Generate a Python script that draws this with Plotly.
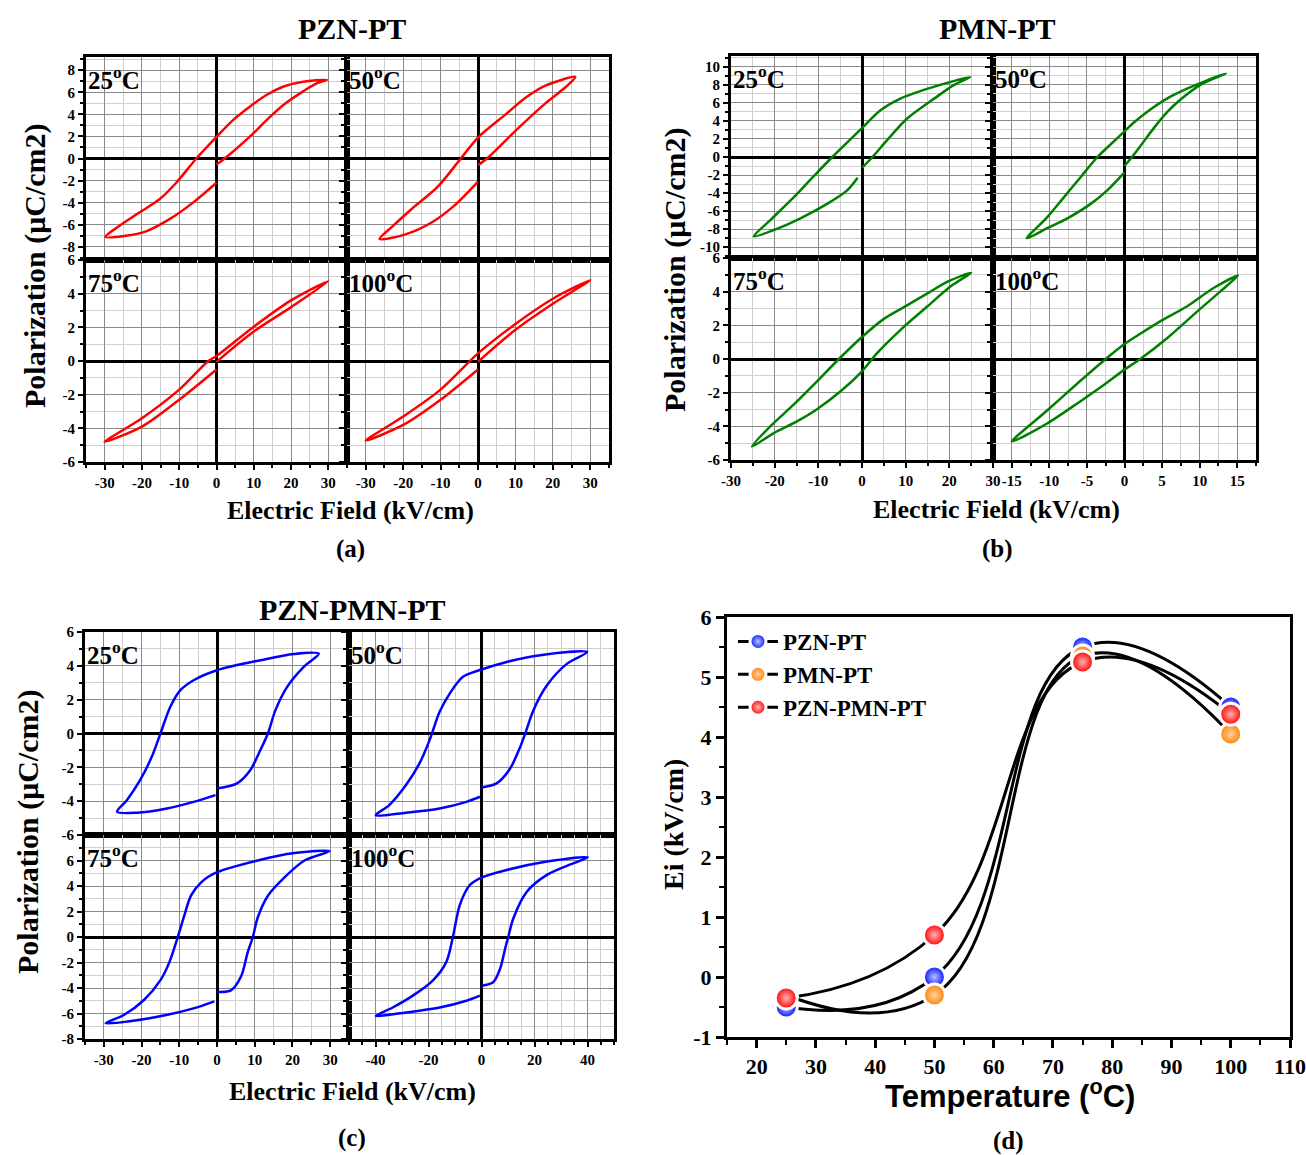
import plotly.graph_objects as go

# ---------------- data ----------------
# P-E hysteresis loops, traced along the measured path:
# start at E=0 -> +Emax (initial), +Emax -> -Emax (upper), -Emax -> 0 (lower)
PZN_PT_25_E = [0, 2.2, 9, 13.5, 18, 22.5, 27, 29.6, 22.5, 18, 13.5, 9, 4.5, 0, -5.4, -10.8, -15.3, -20.7, -26, -29.8, -24.3, -18.9, -12.6, -6.3, 0]
PZN_PT_25_P = [-0.54, 0, 2.0, 3.5, 4.87, 5.93, 6.83, 7.13, 6.92, 6.53, 5.78, 4.72, 3.5, 1.96, 0, -2.2, -3.7, -4.9, -6.1, -7.1, -7.0, -6.6, -5.5, -4.0, -2.2]

PZN_PT_50_E = [0, 2.4, 10.9, 18, 23.5, 26, 18, 12.7, 7.4, 0, -4.6, -10.6, -17.8, -23, -26.3, -19.6, -12.4, -6.1, 0]
PZN_PT_50_P = [-0.6, 0, 2.8, 5.0, 6.5, 7.4, 6.6, 5.5, 4.0, 1.9, 0, -2.5, -4.6, -6.2, -7.3, -6.9, -5.8, -4.2, -2.1]

PZN_PT_75_E = [0, 10, 20, 30, 20, 10, 0, -2.2, -10, -20, -30, -20, -10, 0]
PZN_PT_75_P = [-0.05, 1.75, 3.2, 4.75, 3.6, 2.04, 0.3, 0, -1.7, -3.4, -4.8, -3.9, -2.3, -0.5]

PZN_PT_100_E = [0, 10, 20, 30, 20, 10, 0, -10, -20, -30, -20, -10, 0]
PZN_PT_100_P = [-0.05, 1.85, 3.4, 4.8, 3.7, 2.2, 0.45, -1.7, -3.3, -4.73, -3.8, -2.3, -0.5]

PMN_PT_25_E = [0, 2.4, 5.8, 10.4, 16.6, 21.1, 24.8, 16.6, 8.9, 4.3, 0, -6.8, -11, -15.6, -21, -24.8, -20.2, -14.1, -8, -3.4, -1]
PMN_PT_25_P = [-1.2, 0, 1.9, 4.3, 6.5, 8.0, 8.87, 7.8, 6.5, 5.2, 3.2, 0, -2.1, -4.45, -7.0, -8.8, -8.1, -6.8, -5.2, -3.7, -2.3]

PMN_PT_50_E = [0, 1.0, 2.1, 3.9, 5.7, 7.5, 10.1, 13.5, 11.0, 8.4, 5.7, 3.0, 1.2, 0, -1.4, -3.6, -5.9, -8.1, -10.3, -13.0, -10.3, -7.6, -4.5, -2.3, 0]
PMN_PT_50_P = [-1.0, 0, 1.2, 3.2, 5.0, 6.4, 8.0, 9.25, 8.5, 7.6, 6.5, 5.0, 3.8, 2.85, 1.75, 0, -2.3, -4.5, -6.7, -9.0, -7.9, -6.8, -5.2, -3.7, -1.7]

PMN_PT_75_E = [0, 3.5, 8.9, 15, 20.4, 25, 19.6, 15, 10.4, 5.1, 0, -5.3, -10.3, -15.6, -21, -25.2, -20.2, -14.9, -10.3, -4.9, 0]
PMN_PT_75_P = [-0.73, 0.36, 1.75, 3.13, 4.33, 5.12, 4.6, 3.9, 3.2, 2.4, 1.31, 0, -1.33, -2.7, -4.0, -5.2, -4.4, -3.71, -2.98, -1.92, -0.73]

PMN_PT_100_E = [0, 2.1, 5.7, 9.7, 12.8, 15.1, 11.9, 8.4, 4.8, 2.1, 0, -2.5, -5.9, -10.3, -15, -10.3, -5.9, -3.0, 0]
PMN_PT_100_P = [-0.63, 0, 1.25, 2.83, 4.03, 4.96, 4.23, 3.15, 2.25, 1.5, 0.89, 0, -1.31, -3.06, -4.9, -3.83, -2.52, -1.62, -0.63]

PZN_PMN_PT_25_E = [0, 5.3, 8.8, 11.5, 13.5, 15.5, 18.6, 23, 27, 20.4, 11.5, 0, -6.2, -9.7, -12.4, -15, -17.3, -20.4, -23.9, -26.5, -21.2, -13.3, -6.2, -0.4]
PZN_PMN_PT_25_P = [-3.25, -2.95, -2.17, -0.98, 0, 1.38, 2.76, 3.94, 4.72, 4.7, 4.33, 3.74, 3.15, 2.56, 1.57, 0, -1.38, -2.76, -3.94, -4.63, -4.68, -4.43, -4.04, -3.64]

PZN_PMN_PT_50_E = [0, 5.7, 10.8, 14.6, 16.5, 19.6, 24.7, 32.3, 39.9, 22.2, 9.5, 0, -7, -12, -15.8, -19.6, -23.4, -28.5, -34.8, -39.9, -28.5, -15.8, -5.7, -0.6]
PZN_PMN_PT_50_P = [-3.19, -2.95, -2.07, -0.79, 0, 1.38, 2.85, 4.13, 4.82, 4.63, 4.23, 3.78, 3.35, 2.36, 1.28, -0.39, -1.77, -3.05, -4.23, -4.82, -4.68, -4.43, -4.04, -3.74]

PZN_PMN_PT_75_E = [0, 3.7, 6.4, 8.1, 9.5, 10.8, 13.5, 17.9, 23.2, 29.8, 20.5, 10.8, 0, -4.2, -6.9, -8.7, -10.4, -12.7, -14.9, -19.3, -24.6, -29.5, -23.7, -13.1, -6, -0.7]
PZN_PMN_PT_75_P = [-4.3, -4.18, -3.08, -1.24, 0, 1.53, 3.24, 4.68, 6.0, 6.74, 6.58, 6.0, 5.08, 4.29, 3.24, 1.66, 0, -2.03, -3.34, -4.92, -6.1, -6.76, -6.63, -6.1, -5.58, -5.05]

PZN_PMN_PT_100_E = [0, 4.4, 7, 8.9, 10.1, 12, 17.1, 24.7, 34.8, 40.1, 24.7, 9.5, 0, -4.4, -8.2, -10.8, -13.3, -18.4, -25.9, -33.5, -39.9, -28.5, -15.8, -5.7, -0.6]
PZN_PMN_PT_100_P = [-3.82, -3.55, -2.5, -0.92, 0, 1.45, 3.55, 4.87, 5.79, 6.26, 5.92, 5.26, 4.66, 4.08, 2.5, 0, -1.97, -3.42, -4.6, -5.53, -6.18, -5.92, -5.53, -5.0, -4.6]

TEMP_LABELS = ["25", "50", "75", "100"]

# tick values
X_TICKS_30 = [-30, -20, -10, 0, 10, 20, 30]
X_TICKS_15 = [-15, -10, -5, 0, 5, 10, 15]
X_TICKS_40 = [-40, -20, 0, 20, 40]
Y_TICKS_8 = [-8, -6, -4, -2, 0, 2, 4, 6, 8]
Y_TICKS_10 = [-10, -8, -6, -4, -2, 0, 2, 4, 6, 8, 10]
Y_TICKS_6 = [-6, -4, -2, 0, 2, 4, 6]
Y_TICKS_8_6 = [-8, -6, -4, -2, 0, 2, 4, 6]

# Internal field Ei vs temperature (panel d)
TEMPERATURES = [25, 50, 75, 100]
EI_PZN_PT = [-0.5, 0.0, 5.5, 4.5]
EI_PMN_PT = [-0.3, -0.3, 5.35, 4.05]
EI_PZN_PMN_PT = [-0.35, 0.7, 5.25, 4.38]
SERIES_NAMES = ["PZN-PT", "PMN-PT", "PZN-PMN-PT"]
T_TICKS = [20, 30, 40, 50, 60, 70, 80, 90, 100, 110]
EI_TICKS = [-1, 0, 1, 2, 3, 4, 5, 6]

# ---------------- layout helpers ----------------
W, H = 1306, 1155
SERIF = "Liberation Serif, Times New Roman, Times, serif"


def xd(a, b):
    return [a / W, b / W]


def yd(top, bottom):
    return [1 - bottom / H, 1 - top / H]


def txt(vals):
    return [str(v) for v in vals]


fig = go.Figure()
layout = {}
annotations = []

RED, GREEN, BLUE = "#ff0000", "#008000", "#0000ff"
subplots = [
    # panel a
    (PZN_PT_25_E, PZN_PT_25_P, RED, (86, 347), (57, 260), (-35, 35), (-9.2, 9.2), 10, X_TICKS_30, False, Y_TICKS_8, True, 0),
    (PZN_PT_50_E, PZN_PT_50_P, RED, (347, 609), (57, 260), (-35, 35), (-9.2, 9.2), 10, X_TICKS_30, False, Y_TICKS_8, False, 1),
    (PZN_PT_75_E, PZN_PT_75_P, RED, (86, 347), (260, 462), (-35, 35), (-6, 6), 10, X_TICKS_30, True, Y_TICKS_6, True, 2),
    (PZN_PT_100_E, PZN_PT_100_P, RED, (347, 609), (260, 462), (-35, 35), (-6, 6), 10, X_TICKS_30, True, Y_TICKS_6, False, 3),
    # panel b
    (PMN_PT_25_E, PMN_PT_25_P, GREEN, (731, 993), (56, 258), (-30, 30), (-11.2, 11.2), 10, X_TICKS_30, False, Y_TICKS_10, True, 0),
    (PMN_PT_50_E, PMN_PT_50_P, GREEN, (993, 1256), (56, 258), (-17.5, 17.5), (-11.2, 11.2), 5, X_TICKS_15, False, Y_TICKS_10, False, 1),
    (PMN_PT_75_E, PMN_PT_75_P, GREEN, (731, 993), (258, 460), (-30, 30), (-6, 6), 10, X_TICKS_30, True, Y_TICKS_6, True, 2),
    (PMN_PT_100_E, PMN_PT_100_P, GREEN, (993, 1256), (258, 460), (-17.5, 17.5), (-6, 6), 5, X_TICKS_15, True, Y_TICKS_6, False, 3),
    # panel c
    (PZN_PMN_PT_25_E, PZN_PMN_PT_25_P, BLUE, (85, 349), (632, 835), (-35, 35), (-6, 6), 10, X_TICKS_30, False, Y_TICKS_6, True, 0),
    (PZN_PMN_PT_50_E, PZN_PMN_PT_50_P, BLUE, (349, 614), (632, 835), (-50, 50), (-6, 6), 10, X_TICKS_40, False, Y_TICKS_6, False, 1),
    (PZN_PMN_PT_75_E, PZN_PMN_PT_75_P, BLUE, (85, 349), (835, 1039), (-35, 35), (-8, 8), 10, X_TICKS_30, True, Y_TICKS_8_6, True, 2),
    (PZN_PMN_PT_100_E, PZN_PMN_PT_100_P, BLUE, (349, 614), (835, 1039), (-50, 50), (-8, 8), 10, X_TICKS_40, True, Y_TICKS_8_6, False, 3),
]

tickfont = dict(family=SERIF, size=15, color="black", weight="bold")
MAJ, MIN = "#8a8a8a", "#cfcfcf"

for i, (E, P, col, xpx, ypx, xr, yr, xgrid, xticks, showx, yticks, showy, ti) in enumerate(subplots):
    n = i + 1
    xa = "x" if n == 1 else f"x{n}"
    ya = "y" if n == 1 else f"y{n}"
    fig.add_trace(go.Scatter(x=E, y=P, mode="lines", xaxis=xa, yaxis=ya, showlegend=False,
                             line=dict(color=col, width=2.5, shape="spline", smoothing=0.85),
                             hoverinfo="skip"))
    layout[f"xaxis{'' if n == 1 else n}"] = dict(
        domain=xd(*xpx), anchor=ya, range=list(xr),
        tickmode="array", tickvals=xticks, ticktext=txt(xticks),
        showgrid=True, gridcolor=MAJ, gridwidth=1,
        minor=dict(tickmode="linear", tick0=0, dtick=xgrid / 2, showgrid=True, gridcolor=MIN, gridwidth=1,
                   ticks="outside" if showx else "", ticklen=3, tickwidth=1.5, tickcolor="black"),
        zeroline=True, zerolinecolor="black", zerolinewidth=2.5,
        showline=True, mirror=True, linecolor="black", linewidth=3,
        ticks="outside" if showx else "", ticklen=5, tickwidth=2, tickcolor="black",
        showticklabels=showx, tickfont=tickfont, fixedrange=True,
    )
    layout[f"yaxis{'' if n == 1 else n}"] = dict(
        domain=yd(*ypx), anchor=xa, range=list(yr),
        tickmode="array", tickvals=yticks, ticktext=txt(yticks),
        showgrid=True, gridcolor=MAJ, gridwidth=1,
        minor=dict(tickmode="linear", tick0=0, dtick=1, showgrid=True, gridcolor=MIN, gridwidth=1,
                   ticks="outside", ticklen=3, tickwidth=1.5, tickcolor="black"),
        zeroline=True, zerolinecolor="black", zerolinewidth=2.5,
        showline=True, mirror=True, linecolor="black", linewidth=3,
        ticks="outside", ticklen=5, tickwidth=2, tickcolor="black",
        showticklabels=showy, tickfont=tickfont, fixedrange=True,
    )
    annotations.append(dict(
        xref=f"{xa} domain", yref=f"{ya} domain", x=0.0, y=0.985, xanchor="left", yanchor="top",
        text=f"{TEMP_LABELS[ti]}<sup>o</sup>C", showarrow=False,
        font=dict(family=SERIF, size=25, color="black", weight="bold")))

# ---------------- panel d ----------------
nd = len(subplots) + 1
xa_d, ya_d = f"x{nd}", f"y{nd}"
ball_cols = ["#0010ff", "#ff8000", "#ff0000"]
ball_hi = ["#b8c0ff", "#ffd2a0", "#ffb0b0"]
series = [EI_PZN_PT, EI_PMN_PT, EI_PZN_PMN_PT]
for vals in series:
    fig.add_trace(go.Scatter(x=TEMPERATURES, y=vals, mode="lines", xaxis=xa_d, yaxis=ya_d,
                             showlegend=False, hoverinfo="skip",
                             line=dict(color="black", width=3, shape="spline", smoothing=1.3)))
for vals, c, hi in zip(series, ball_cols, ball_hi):
    fig.add_trace(go.Scatter(x=TEMPERATURES, y=vals, mode="markers", xaxis=xa_d, yaxis=ya_d,
                             showlegend=False, hoverinfo="skip",
                             marker=dict(size=22, color=c, line=dict(color="white", width=3),
                                         gradient=dict(type="radial", color=hi))))
for c, hi, name in zip(ball_cols, ball_hi, SERIES_NAMES):
    fig.add_trace(go.Scatter(x=[None], y=[None], mode="lines+markers", name=name, xaxis=xa_d, yaxis=ya_d,
                             line=dict(color="black", width=3),
                             marker=dict(size=22, color=c, line=dict(color="white", width=3),
                                         gradient=dict(type="radial", color=hi))))

dfont = dict(family=SERIF, size=22, color="black", weight="bold")
layout[f"xaxis{nd}"] = dict(
    domain=xd(727, 1290), anchor=ya_d, range=[15, 110],
    tickmode="array", tickvals=T_TICKS, ticktext=txt(T_TICKS),
    showgrid=False, zeroline=False, showline=True, mirror=True, linecolor="black", linewidth=3,
    ticks="outside", ticklen=8, tickwidth=2.5, tickcolor="black",
    minor=dict(tickmode="linear", tick0=0, dtick=5, ticks="outside", ticklen=5, tickwidth=2,
               tickcolor="black", showgrid=False),
    tickfont=dfont, fixedrange=True)
layout[f"yaxis{nd}"] = dict(
    domain=yd(617, 1037), anchor=xa_d, range=[-1, 6],
    tickmode="array", tickvals=EI_TICKS, ticktext=txt(EI_TICKS),
    showgrid=False, zeroline=False, showline=True, mirror=True, linecolor="black", linewidth=3,
    ticks="outside", ticklen=8, tickwidth=2.5, tickcolor="black",
    minor=dict(tickmode="linear", tick0=0, dtick=0.5, ticks="outside", ticklen=5, tickwidth=2,
               tickcolor="black", showgrid=False),
    tickfont=dfont, fixedrange=True)


# ---------------- titles and labels ----------------
def ann(x, y, text, size, angle=0, family=SERIF):
    annotations.append(dict(xref="paper", yref="paper", x=x / W, y=1 - y / H, text=text, showarrow=False,
                            xanchor="center", yanchor="middle", textangle=angle,
                            font=dict(family=family, size=size, color="black", weight="bold")))


ann(352, 28, "PZN-PT", 30)
ann(997, 28, "PMN-PT", 30)
ann(352, 609, "PZN-PMN-PT", 30)
ann(35, 266, "Polarization (μC/cm2)", 30, -90)
ann(675, 270, "Polarization (μC/cm2)", 30, -90)
ann(28, 832, "Polarization (μC/cm2)", 30, -90)
ann(350, 511, "Electric Field (kV/cm)", 26)
ann(996, 509, "Electric Field (kV/cm)", 26)
ann(352, 1091, "Electric Field (kV/cm)", 26)
ann(350, 549, "(a)", 25)
ann(997, 549, "(b)", 25)
ann(352, 1138, "(c)", 25)
ann(1008, 1141, "(d)", 25)
ann(673, 825, "Ei (kV/cm)", 28, -90)
ann(1010, 1094, "Temperature (<sup>o</sup>C)", 31, 0, "Liberation Sans Narrow, Arial Narrow, Liberation Sans, Arial")

fig.update_layout(
    width=W, height=H, margin=dict(l=0, r=0, t=0, b=0, autoexpand=False),
    paper_bgcolor="white", plot_bgcolor="white",
    showlegend=True,
    legend=dict(x=733 / W, y=1 - 620 / H, xanchor="left", yanchor="top",
                bgcolor="rgba(0,0,0,0)", borderwidth=0, itemwidth=40, tracegroupgap=0,
                font=dict(family=SERIF, size=23, color="black", weight="bold")),
    annotations=annotations,
    **layout,
)

fig.write_html("out.html", post_script="document.body.style.margin='0px';document.body.style.padding='0px';")
